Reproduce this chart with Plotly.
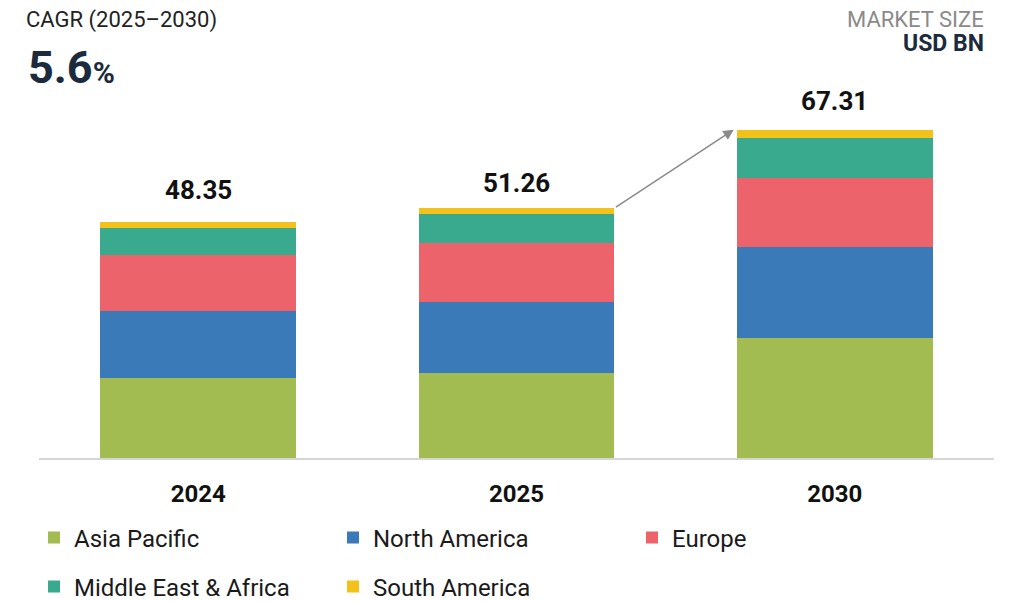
import plotly.graph_objects as go

years = ["2024", "2025", "2030"]
totals = [48.35, 51.26, 67.31]
asia_pacific = [16.46, 17.50, 24.60]
north_america = [13.58, 14.55, 18.66]
europe = [11.59, 12.08, 14.15]
mea = [5.55, 5.97, 8.20]
south_america = [1.17, 1.16, 1.70]

series = [
    ("Asia Pacific", asia_pacific, "#A3BC52", "legend"),
    ("North America", north_america, "#3B7AB8", "legend"),
    ("Europe", europe, "#EC636B", "legend"),
    ("Middle East & Africa", mea, "#3AAA8E", "legend2"),
    ("South America", south_america, "#F2C21B", "legend2"),
]

FONT = "Roboto"
fig = go.Figure()
for name, vals, color, lg in series:
    fig.add_trace(go.Bar(
        x=years, y=vals, name=name, marker=dict(color=color, line=dict(width=0)),
        legend=lg, hoverinfo="skip",
    ))

bargap = 0.385
label_shift = [15, 8, 12]
for i, t in enumerate(totals):
    fig.add_annotation(x=i, y=t, text=f"<b>{t:.2f}</b>", showarrow=False,
                       yanchor="bottom", yshift=label_shift[i],
                       font=dict(family=FONT, size=26, color="#111111"))

half = (1 - bargap) / 2
fig.add_annotation(x=2 - half - 0.01, y=totals[2], ax=1 + half, ay=totals[1],
                   xref="x", yref="y", axref="x", ayref="y",
                   showarrow=True, arrowhead=2, arrowsize=1.4, arrowwidth=1.5,
                   arrowcolor="#8a8a8a", text="")

# header texts
fig.add_annotation(xref="paper", yref="paper", x=-0.016, y=1.0, yshift=100 - 20,
                   xanchor="left", yanchor="middle", showarrow=False,
                   text="CAGR (2025–2030)", font=dict(family=FONT, size=22, color="#222222"))
fig.add_annotation(xref="paper", yref="paper", x=-0.0135, y=1.0, yshift=100 - 67,
                   xanchor="left", yanchor="middle", showarrow=False,
                   text="<b>5.6</b><span style='font-size:30px'><b>%</b></span>",
                   font=dict(family=FONT, size=45, color="#1B2A3C"))
fig.add_annotation(xref="paper", yref="paper", x=0.992, y=1.0, yshift=100 - 19,
                   xanchor="right", yanchor="middle", showarrow=False,
                   text="MARKET SIZE", font=dict(family=FONT, size=22, color="#8a8a8a"))
fig.add_annotation(xref="paper", yref="paper", x=0.992, y=1.0, yshift=100 - 43,
                   xanchor="right", yanchor="middle", showarrow=False,
                   text="<b>USD BN</b>", font=dict(family=FONT, size=23, color="#1B2A3C"))

legend_common = dict(orientation="h", xanchor="left", yanchor="middle",
                     xref="container", yref="container",
                     x=34 / 1030, entrywidth=254, entrywidthmode="pixels",
                     font=dict(family=FONT, size=24, color="#1a1a1a"),
                     bgcolor="rgba(0,0,0,0)", traceorder="normal")

fig.update_layout(
    width=1030, height=601,
    margin=dict(l=39, r=36, t=100, b=143, autoexpand=False),
    paper_bgcolor="white", plot_bgcolor="white",
    barmode="stack", bargap=bargap,
    showlegend=True,
    legend=dict(**legend_common, y=1 - 538 / 601),
    legend2=dict(**legend_common, y=1 - 587 / 601),
    xaxis=dict(type="category", showgrid=False, showline=True, linecolor="#d6d6d6",
               linewidth=2, ticks="", ticklabelstandoff=13, automargin=False,
               tickfont=dict(family=FONT, size=24, color="#111111", weight="bold")),
    yaxis=dict(visible=False, range=[0, 73.4], showgrid=False, zeroline=False),
)

fig.write_html("out.html", config={"displayModeBar": False},
               post_script="document.body.style.margin='0px';")
